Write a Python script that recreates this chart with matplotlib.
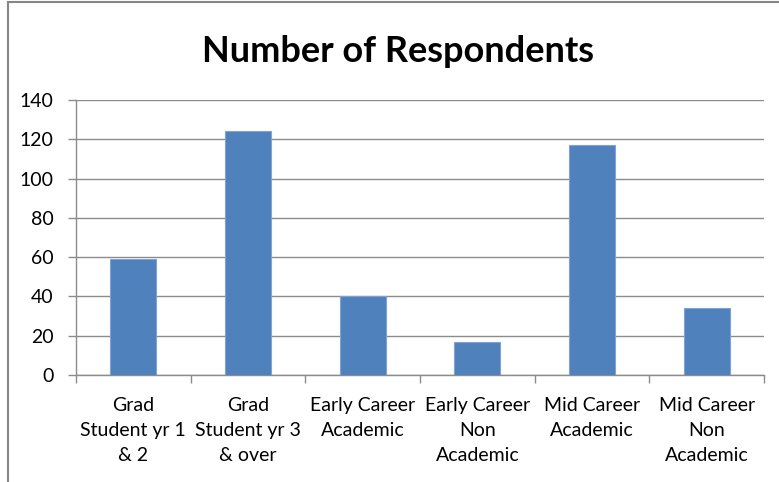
import matplotlib
matplotlib.use("Agg")
import matplotlib.pyplot as plt
from matplotlib.patches import Rectangle

categories = ["Grad\nStudent yr 1\n& 2", "Grad\nStudent yr 3\n& over", "Early Career\nAcademic",
              "Early Career\nNon\nAcademic", "Mid Career\nAcademic", "Mid Career\nNon\nAcademic"]
values = [59, 124, 40, 17, 117, 34]
yticks = [0, 20, 40, 60, 80, 100, 120, 140]
title = "Number of Respondents"

FONT = ["Lato", "DejaVu Sans"]
W, H = 779, 482
fig = plt.figure(figsize=(W / 100, H / 100), dpi=100)
ax = fig.add_axes([76 / W, 1 - 375 / H, (764 - 76) / W, (375 - 100) / H])

x = list(range(len(values)))
ax.bar(x, values, width=0.4, color="#4F81BD", edgecolor="#7FA3D3", linewidth=0.8, zorder=3)
ax.set_xlim(-0.5, len(values) - 0.5)
ax.set_ylim(0, 140)
ax.set_yticks(yticks)
ax.set_yticklabels([str(v) for v in yticks], fontfamily=FONT, fontsize=14)
ax.yaxis.grid(True, color="#8C8C8C", linewidth=1.0, zorder=0)
ax.set_axisbelow(True)

# category labels centered, ticks at boundaries
ax.set_xticks(x)
ax.set_xticklabels(categories, fontfamily=FONT, fontsize=14, linespacing=1.58)
ax.tick_params(axis="x", length=0, pad=16)
ax.set_xticks([i - 0.5 for i in range(len(values) + 1)], minor=True)
ax.tick_params(axis="x", which="minor", length=6, color="#8C8C8C", width=1.0, direction="out")
ax.tick_params(axis="y", length=6, color="#8C8C8C", width=1.0, pad=10)

for s in ["top", "right"]:
    ax.spines[s].set_visible(False)
for s in ["left", "bottom"]:
    ax.spines[s].set_color("#8C8C8C")
    ax.spines[s].set_linewidth(1.0)

fig.text(398 / W, 1 - 62 / H, title, fontfamily=FONT, fontsize=26, fontweight="bold",
         ha="center", va="baseline")

# chart area border (partially cropped)
fig.patches.append(Rectangle((8 / W, -0.1), 1.2, 1 - 2 / H + 0.1, transform=fig.transFigure,
                             fill=False, edgecolor="#868686", linewidth=1.5))

fig.savefig("out.png", dpi=100)
